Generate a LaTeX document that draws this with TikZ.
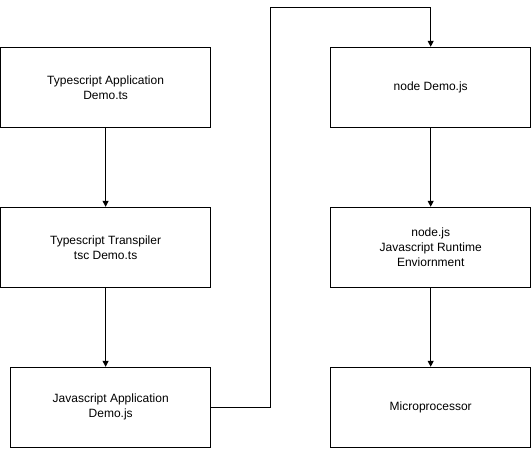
\documentclass[tikz,border=0pt]{standalone}
\usepackage{fontspec}
\setmainfont{Liberation Sans}
\usetikzlibrary{arrows.meta}

\tikzset{
	stagebox/.style={draw, line width=1pt, minimum width=200pt, minimum height=80pt,
		inner sep=0pt, align=center, font=\fontsize{12}{15}\selectfont},
	widebox/.style={stagebox, minimum width=210pt},
	flow/.style={line width=1pt, -{Triangle[length=6pt,width=6pt]}}
}

\begin{document}
\begin{tikzpicture}[x=1pt,y=-1pt]
			\useasboundingbox (0,0) rectangle (531,448);
			\node[widebox] (ts) at (105.6,87.3) {Typescript Application\\Demo.ts};
			\node[widebox] (tsc) at (105.6,247.3) {Typescript Transpiler\\tsc Demo.ts};
			\node[stagebox] (js) at (110.7,407.3) {Javascript Application\\Demo.js};
			\node[stagebox] (run) at (430.7,87.3) {node Demo.js};
			\node[stagebox] (env) at (430.7,247.3) {node.js\\Javascript Runtime\\Enviornment};
			\node[stagebox] (cpu) at (430.7,407.3) {Microprocessor};
			\coordinate (up) at (270.7,7.3);
			\draw[flow] (ts) -- (tsc);
			\draw[flow] (tsc.south) -- (tsc.south |- js.north);
			\draw[flow] (js.east) -| (up) -| (run.north);
			\draw[flow] (run) -- (env);
			\draw[flow] (env) -- (cpu);
		\end{tikzpicture}
\end{document}
